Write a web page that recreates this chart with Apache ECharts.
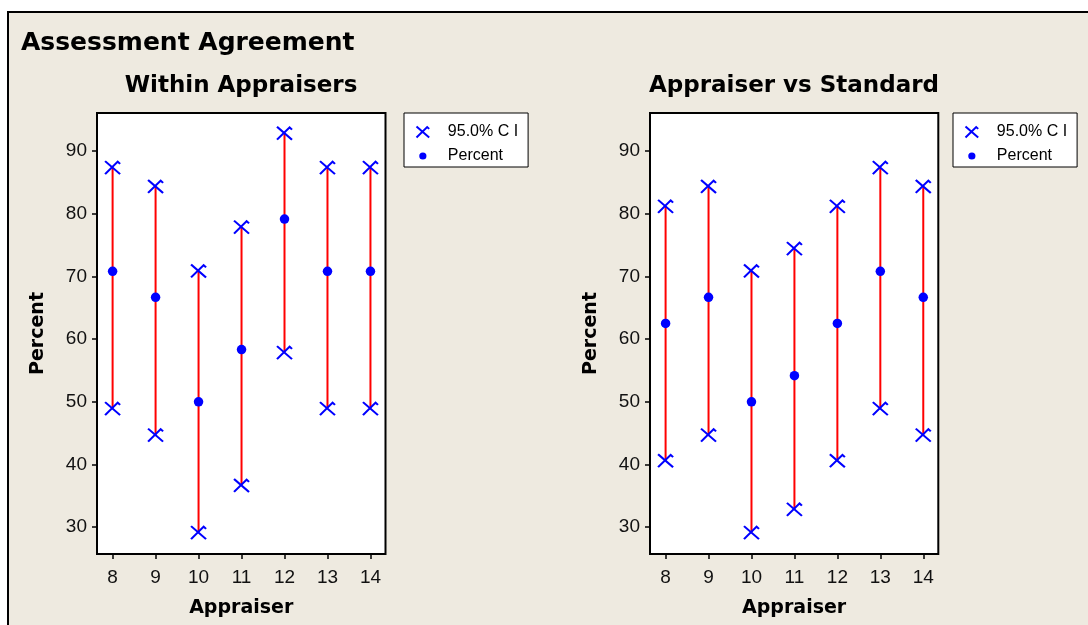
<!DOCTYPE html>
<html>
<head>
<meta charset="utf-8">
<script src="https://cdn.jsdelivr.net/npm/echarts@6/dist/echarts.min.js"></script>
<style>
  html, body { margin: 0; padding: 0; background: #fff; }
  #chart { width: 1088px; height: 625px; }
</style>
</head>
<body>
<div id="chart"></div>
<script>
// Appraiser ids on the x axis and the y tick values
const appraisers = [8, 9, 10, 11, 12, 13, 14];
const yTicks = [30, 40, 50, 60, 70, 80, 90];

// Within appraisers: percent agreement with 95% confidence limits
const withinPercent = [70.83, 66.67, 50.00, 58.33, 79.17, 70.83, 70.83];
const withinLower   = [48.91, 44.68, 29.12, 36.64, 57.85, 48.91, 48.91];
const withinUpper   = [87.38, 84.37, 70.88, 77.89, 92.87, 87.38, 87.38];

// Appraiser vs standard: percent agreement with 95% confidence limits
const standardPercent = [62.50, 66.67, 50.00, 54.17, 62.50, 70.83, 66.67];
const standardLower   = [40.59, 44.68, 29.12, 32.82, 40.59, 48.91, 44.68];
const standardUpper   = [81.20, 84.37, 70.88, 74.45, 81.20, 87.38, 84.37];

const BOLD = '"DejaVu Sans", Verdana, sans-serif';
const REG = '"Liberation Sans", Arial, sans-serif';
const BLUE = '#0000ff';
const RED = '#ff0000';
const CI_NAME = '95.0% C I';
const PCT_NAME = 'Percent';
const X_MARK = 'path://M0 0L15 13M0 13L12.6 0.6L15 2.8';
const DOT_ICON = 'image://data:image/svg+xml;utf8,' + encodeURIComponent(
  "<svg xmlns='http://www.w3.org/2000/svg' width='14' height='10'><circle cx='7' cy='5' r='3.6' fill='#0000ff'/></svg>");

function xAxisFor(gridIndex) {
  return {
    gridIndex, type: 'value', min: 7.637, max: 14.35,
    axisLine: { show: false },
    splitLine: { show: false },
    axisTick: { show: true, customValues: appraisers, length: 5, lineStyle: { color: '#000', width: 1.5 } },
    axisLabel: { customValues: appraisers, margin: 14, fontSize: 19, fontFamily: REG, color: '#111' },
    name: 'Appraiser', nameLocation: 'middle', nameGap: 45,
    nameTextStyle: { fontFamily: BOLD, fontWeight: 'bold', fontSize: 19, color: '#000' }
  };
}

function yAxisFor(gridIndex) {
  return {
    gridIndex, type: 'value', min: 25.7, max: 96.1,
    axisLine: { show: false },
    splitLine: { show: false },
    axisTick: { show: true, customValues: yTicks, length: 5, lineStyle: { color: '#000', width: 1.5 } },
    axisLabel: { customValues: yTicks, margin: 10, fontSize: 19, fontFamily: REG, color: '#111' },
    name: 'Percent', nameLocation: 'middle', nameGap: 49, nameRotate: 90,
    nameTextStyle: { fontFamily: BOLD, fontWeight: 'bold', fontSize: 19, color: '#000' }
  };
}

function panelSeries(idx, pct, lo, hi) {
  return [
    {
      type: 'custom', name: 'interval', xAxisIndex: idx, yAxisIndex: idx, silent: true, z: 2,
      data: appraisers.map((a, i) => [a, lo[i], hi[i]]),
      encode: { x: 0, y: [1, 2] },
      renderItem: (params, api) => {
        const p0 = api.coord([api.value(0), api.value(1)]);
        const p1 = api.coord([api.value(0), api.value(2)]);
        return { type: 'line', shape: { x1: p0[0], y1: p0[1], x2: p1[0], y2: p1[1] },
                 style: { stroke: RED, lineWidth: 2 } };
      }
    },
    {
      type: 'scatter', name: CI_NAME, xAxisIndex: idx, yAxisIndex: idx, z: 3,
      data: appraisers.map((a, i) => [a, lo[i]]).concat(appraisers.map((a, i) => [a, hi[i]])),
      symbol: X_MARK, symbolSize: [15, 13],
      itemStyle: { color: 'none', borderColor: BLUE, borderWidth: 2, opacity: 1 }
    },
    {
      type: 'scatter', name: PCT_NAME, xAxisIndex: idx, yAxisIndex: idx, z: 4,
      data: appraisers.map((a, i) => [a, pct[i]]),
      symbol: 'circle', symbolSize: 9.5,
      itemStyle: { color: BLUE, opacity: 1 }
    }
  ];
}

function legendAt(left) {
  return {
    left, top: 113, orient: 'vertical',
    backgroundColor: '#fff', borderColor: '#000', borderWidth: 1,
    padding: [11, 10, 3, 10], itemGap: 8, itemWidth: 14, itemHeight: 11,
    textStyle: { fontFamily: REG, fontSize: 16, color: '#000', padding: [0, 0, 0, 13] },
    selectedMode: false,
    data: [
      { name: CI_NAME, icon: X_MARK, itemStyle: { color: 'none', borderColor: BLUE, borderWidth: 2, opacity: 1 } },
      { name: PCT_NAME, icon: DOT_ICON }
    ]
  };
}

const chart = echarts.init(document.getElementById('chart'), null, { renderer: 'canvas' });
chart.setOption({
  backgroundColor: '#eeeae0',
  animation: false,
  title: [
    { text: 'Assessment Agreement', left: 21, top: 31, padding: 0,
      textStyle: { fontFamily: BOLD, fontWeight: 'bold', fontSize: 25, color: '#000' } },
    { text: 'Within Appraisers', left: 241, top: 75, padding: 0, textAlign: 'center',
      textStyle: { fontFamily: BOLD, fontWeight: 'bold', fontSize: 23, color: '#000' } },
    { text: 'Appraiser vs Standard', left: 794, top: 75, padding: 0, textAlign: 'center',
      textStyle: { fontFamily: BOLD, fontWeight: 'bold', fontSize: 23, color: '#000' } }
  ],
  graphic: [
    { type: 'rect', shape: { x: 0, y: 0, width: 1088, height: 11 }, style: { fill: '#fff' }, silent: true },
    { type: 'rect', shape: { x: 0, y: 0, width: 7, height: 625 }, style: { fill: '#fff' }, silent: true },
    { type: 'line', shape: { x1: 7, y1: 12, x2: 1088, y2: 12 }, style: { stroke: '#000', lineWidth: 2 }, silent: true },
    { type: 'line', shape: { x1: 8, y1: 11, x2: 8, y2: 625 }, style: { stroke: '#000', lineWidth: 2 }, silent: true }
  ],
  legend: [legendAt(404), legendAt(953)],
  grid: [
    { left: 97, top: 113, width: 288.5, height: 441, show: true, backgroundColor: '#fff', borderColor: '#000', borderWidth: 2 },
    { left: 650, top: 113, width: 288.3, height: 441, show: true, backgroundColor: '#fff', borderColor: '#000', borderWidth: 2 }
  ],
  xAxis: [xAxisFor(0), xAxisFor(1)],
  yAxis: [yAxisFor(0), yAxisFor(1)],
  series: panelSeries(0, withinPercent, withinLower, withinUpper)
    .concat(panelSeries(1, standardPercent, standardLower, standardUpper))
});
</script>
</body>
</html>
